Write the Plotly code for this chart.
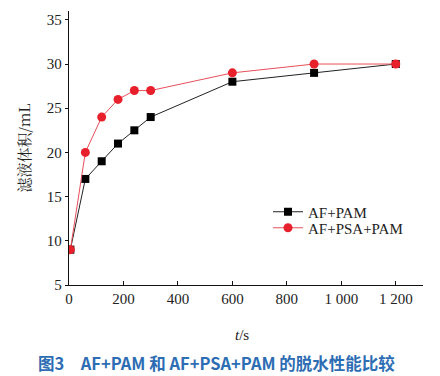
import plotly.graph_objects as go

t = [5, 60, 120, 180, 240, 300, 600, 900, 1200]
af_pam = [9, 17, 19, 21, 22.5, 24, 28, 29, 30]
af_psa_pam = [9, 20, 24, 26, 27, 27, 29, 30, 30]
x_ticks = [0, 200, 400, 600, 800, 1000, 1200]
x_tick_text = ["0", "200", "400", "600", "800", "1 000", "1 200"]
y_ticks = [5, 10, 15, 20, 25, 30, 35]

serif = "Liberation Serif, Times New Roman, serif"

fig = go.Figure()
fig.add_trace(go.Scatter(x=t, y=af_pam, mode="lines+markers", name="AF+PAM", legend="legend",
                         line=dict(color="#222222", width=1),
                         marker=dict(symbol="square", size=8, color="#000000")))
fig.add_trace(go.Scatter(x=t, y=af_psa_pam, mode="lines+markers", name="AF+PSA+PAM", legend="legend2",
                         line=dict(color="#e8505a", width=1),
                         marker=dict(symbol="circle", size=9, color="#e8202c")))

leg_common = dict(xanchor="left", yanchor="middle", bgcolor="rgba(0,0,0,0)",
                  font=dict(family=serif, size=15, color="#222222"), itemwidth=30)
px0 = 69
pw = 354
ph = 274
fig.update_layout(
    width=440, height=376,
    margin=dict(l=69, r=17, t=11, b=91, autoexpand=False),
    plot_bgcolor="white", paper_bgcolor="white",
    font=dict(family=serif, size=15, color="#222222"),
    showlegend=True,
    legend=dict(x=(268 - px0) / pw, y=(285 - 212) / ph, **leg_common),
    legend2=dict(x=(268 - px0) / pw, y=(285 - 228) / ph, **leg_common),
    xaxis=dict(range=[0, 1300], tickvals=x_ticks, ticktext=x_tick_text, automargin=False,
               showgrid=False, zeroline=False, showline=True, linecolor="#111111", linewidth=1.3,
               ticks="inside", ticklen=4, tickcolor="#111111",
               tickfont=dict(family=serif, size=15, color="#222222")),
    yaxis=dict(range=[5, 36], tickvals=y_ticks, automargin=False,
               showgrid=False, zeroline=False, showline=True, linecolor="#111111", linewidth=1.3,
               ticks="outside", ticklen=3, tickcolor="#111111",
               tickfont=dict(family=serif, size=15, color="#222222"),
               title=dict(text="滤液体积/mL", font=dict(family="Noto Serif CJK SC, " + serif, size=15, color="#222222"), standoff=12)),
)

fig.add_annotation(text="<i>t</i>/s", xref="paper", yref="paper", x=(242 - px0) / pw, y=-(335 - 285) / ph,
                   showarrow=False, font=dict(family=serif, size=15, color="#222222"),
                   xanchor="center", yanchor="middle")
fig.add_annotation(text="<b>图3　AF+PAM 和 AF+PSA+PAM 的脱水性能比较</b>", xref="paper", yref="paper",
                   x=(36 - px0) / pw, y=-(363 - 285) / ph, showarrow=False, xanchor="left", yanchor="middle",
                   font=dict(family="Noto Sans CJK SC, sans-serif", size=16.5, color="#2d6db3"))

fig.write_html("out.html", config={"displayModeBar": False},
               post_script="document.body.style.margin='0';document.body.style.overflow='hidden';")
